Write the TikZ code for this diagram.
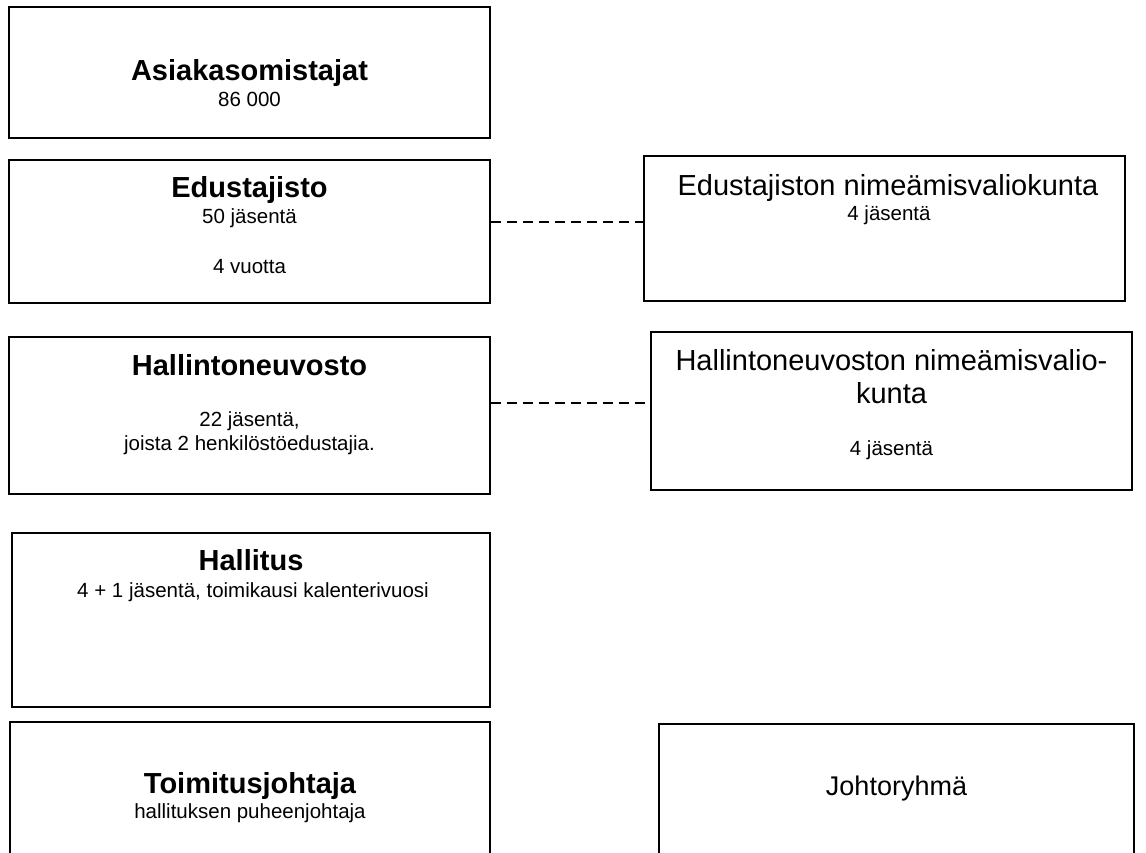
\documentclass[tikz,border=0pt]{standalone}
\usepackage{fontspec}
\setmainfont{Liberation Sans}
\begin{document}
\begin{tikzpicture}[x=1pt,y=-1pt,
    boxtitle/.style={anchor=base,inner sep=0pt,font=\fontsize{29}{34}\selectfont\bfseries},
    sidetitle/.style={anchor=base,inner sep=0pt,font=\fontsize{29}{34}\selectfont},
    boxinfo/.style={anchor=base,inner sep=0pt,font=\fontsize{20.5}{25}\selectfont}]
  \clip (0,0) rectangle (1146,852);
  \begin{scope}[every node/.style={draw,line width=1.5pt,inner sep=0pt}]
    \node[minimum width=481pt,minimum height=131pt] (asiakas) at (249.5,72.5) {};
    \node[minimum width=481pt,minimum height=143pt] (edustajisto) at (249.5,231.5) {};
    \node[minimum width=481pt,minimum height=145pt] (ednimva) at (884.5,228.5) {};
    \node[minimum width=481pt,minimum height=157pt] (hallneuv) at (249.5,415.5) {};
    \node[minimum width=481pt,minimum height=158pt] (hnnimva) at (891.5,411) {};
    \node[minimum width=478pt,minimum height=174pt] (hallitus) at (251,620) {};
    \node[minimum width=480pt,minimum height=158pt] (toimjoht) at (250,801) {};
    \node[minimum width=475pt,minimum height=156pt] (johtoryhma) at (896.5,802) {};
  \end{scope}
  % tekstit
  \node[boxtitle] (asiakasT) at (249.5,80) {Asiakasomistajat};
  \node[boxinfo] (asiakasM) at (249.5,106) {86 000};
  \node[boxtitle] (edustajistoT) at (249.5,197) {Edustajisto};
  \node[boxinfo] (edustajistoJ) at (249.5,223) {50 jäsentä};
  \node[boxinfo] (edustajistoV) at (249.5,273) {4 vuotta};
  \node[sidetitle] (ednimvaT) at (888,195) {Edustajiston nimeämisvaliokunta};
  \node[boxinfo] (ednimvaJ) at (889,220) {4 jäsentä};
  \node[boxtitle] (hallneuvT) at (249.5,375) {Hallintoneuvosto};
  \node[boxinfo] (hallneuvJ) at (249.5,426) {22 jäsentä,};
  \node[boxinfo] (hallneuvH) at (249.5,450) {joista 2 henkilöstöedustajia.};
  \node[sidetitle] (hnnimvaT) at (891.5,370) {Hallintoneuvoston nimeämisvalio-};
  \node[sidetitle] (hnnimvaK) at (891.5,403) {kunta};
  \node[boxinfo] (hnnimvaJ) at (891.5,455) {4 jäsentä};
  \node[boxtitle] (hallitusT) at (251,570) {Hallitus};
  \node[boxinfo] (hallitusJ) at (253,597) {4 + 1 jäsentä, toimikausi kalenterivuosi};
  \node[boxtitle] (toimjohtT) at (250,793) {Toimitusjohtaja};
  \node[boxinfo] (toimjohtP) at (250,818) {hallituksen puheenjohtaja};
  \node[sidetitle,font=\fontsize{27}{32}\selectfont] (johtoryhmaT) at (896.5,795) {Johtoryhmä};
  % katkoviivat
  \begin{scope}[every path/.style={draw,line width=1.2pt,dash pattern=on 10pt off 6pt}]
    \path ([yshift=9.5pt]edustajisto.east) -- ([yshift=6.5pt]ednimva.west);
    \path ([yshift=12.5pt]hallneuv.east) -- ([yshift=8pt]hnnimva.west);
  \end{scope}
\end{tikzpicture}
\end{document}
